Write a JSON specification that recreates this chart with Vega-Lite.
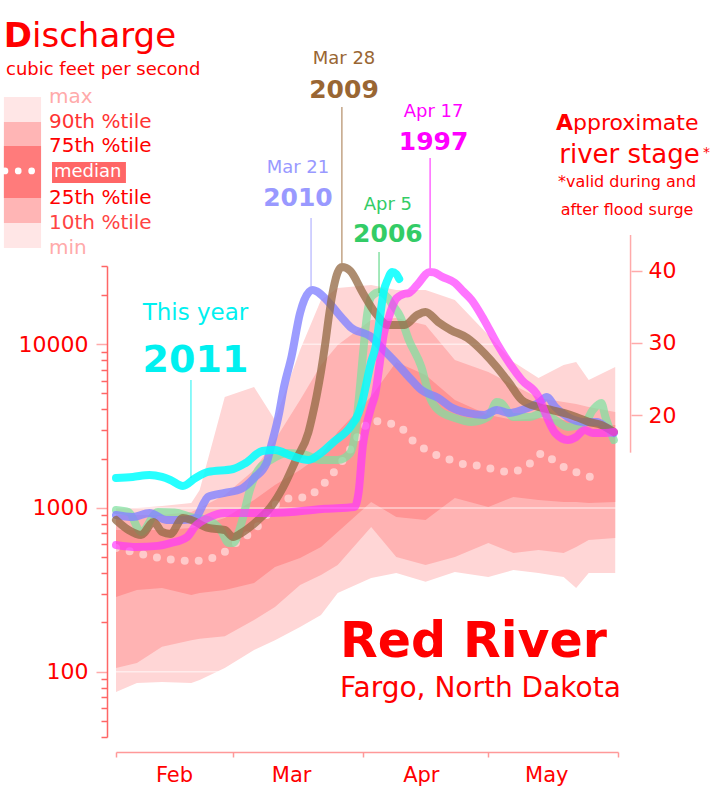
{
  "$schema": "https://vega.github.io/schema/vega-lite/v6.json",
  "width": 502,
  "height": 471,
  "autosize": {"type": "none"},
  "padding": {"left": 116, "top": 266, "right": 97, "bottom": 63},
  "background": "#ffffff",
  "config": {
    "view": {"stroke": null},
    "text": {"font": "DejaVu Sans"},
    "axis": {"labelFont": "DejaVu Sans", "grid": false}
  },
  "datasets": {
    "bands": [
      {"date": "2011-02-01", "min": 75.3, "p10": 105.5, "p25": 286, "p75": 734, "p90": 907, "max": 1000},
      {"date": "2011-02-06", "min": 85.4, "p10": 113, "p25": 316, "p75": 734, "p90": 907, "max": 1000},
      {"date": "2011-02-12", "min": 86.7, "p10": 142, "p25": 325, "p75": 734, "p90": 907, "max": 1029},
      {"date": "2011-02-19", "min": 85.4, "p10": 156, "p25": 294, "p75": 755, "p90": 946, "max": 1073},
      {"date": "2011-02-21", "min": 89.1, "p10": 159, "p25": 303, "p75": 777, "p90": 1000, "max": 1288},
      {"date": "2011-02-27", "min": 105.5, "p10": 165, "p25": 316, "p75": 869, "p90": 1201, "max": 4762},
      {"date": "2011-03-06", "min": 136, "p10": 207, "p25": 349, "p75": 1119, "p90": 1707, "max": 5481},
      {"date": "2011-03-11", "min": 156, "p10": 249, "p25": 436, "p75": 1382, "p90": 2602, "max": 3446},
      {"date": "2011-03-17", "min": 188, "p10": 339, "p25": 495, "p75": 1707, "p90": 4563, "max": 9220},
      {"date": "2011-03-22", "min": 222, "p10": 390, "p25": 578, "p75": 2107, "p90": 7466, "max": 18620},
      {"date": "2011-03-26", "min": 303, "p10": 449, "p25": 714, "p75": 2912, "p90": 9892, "max": 22040},
      {"date": "2011-04-03", "min": 374, "p10": 766, "p25": 1088, "p75": 4786, "p90": 14060, "max": 22990},
      {"date": "2011-04-09", "min": 401, "p10": 502, "p25": 882, "p75": 7788, "p90": 14460, "max": 21430},
      {"date": "2011-04-16", "min": 354, "p10": 449, "p25": 845, "p75": 6489, "p90": 13100, "max": 21430},
      {"date": "2011-04-23", "min": 407, "p10": 502, "p25": 1151, "p75": 4563, "p90": 8011, "max": 18620},
      {"date": "2011-05-01", "min": 379, "p10": 612, "p25": 1014, "p75": 3698, "p90": 6768, "max": 11390},
      {"date": "2011-05-07", "min": 418, "p10": 531, "p25": 1168, "p75": 3446, "p90": 5636, "max": 7788},
      {"date": "2011-05-13", "min": 401, "p10": 554, "p25": 1119, "p75": 3544, "p90": 4695, "max": 6219},
      {"date": "2011-05-19", "min": 379, "p10": 531, "p25": 1088, "p75": 3446, "p90": 4439, "max": 7466},
      {"date": "2011-05-22", "min": 325, "p10": 578, "p25": 1088, "p75": 3351, "p90": 4315, "max": 7788},
      {"date": "2011-05-25", "min": 401, "p10": 638, "p25": 1073, "p75": 3212, "p90": 4136, "max": 6045},
      {"date": "2011-05-31T08:00:00Z", "min": 401, "p10": 656, "p25": 1088, "p75": 3212, "p90": 3857, "max": 7260}
    ],
    "median": [
      {"date": "2011-02-01", "cfs": 570},
      {"date": "2011-02-06", "cfs": 531},
      {"date": "2011-02-13", "cfs": 488},
      {"date": "2011-02-20", "cfs": 475},
      {"date": "2011-02-27", "cfs": 539},
      {"date": "2011-03-02", "cfs": 620},
      {"date": "2011-03-06", "cfs": 734},
      {"date": "2011-03-12", "cfs": 1088},
      {"date": "2011-03-15", "cfs": 1151},
      {"date": "2011-03-19", "cfs": 1168},
      {"date": "2011-03-21", "cfs": 1288},
      {"date": "2011-03-24", "cfs": 1525},
      {"date": "2011-03-26", "cfs": 1780},
      {"date": "2011-03-28", "cfs": 2078},
      {"date": "2011-03-30", "cfs": 2528},
      {"date": "2011-04-01", "cfs": 3037},
      {"date": "2011-04-03", "cfs": 3398},
      {"date": "2011-04-07", "cfs": 3304},
      {"date": "2011-04-10", "cfs": 3124},
      {"date": "2011-04-12", "cfs": 2714},
      {"date": "2011-04-15", "cfs": 2358},
      {"date": "2011-04-18", "cfs": 2137},
      {"date": "2011-04-22", "cfs": 1964},
      {"date": "2011-04-25", "cfs": 1856},
      {"date": "2011-04-29", "cfs": 1806},
      {"date": "2011-05-02", "cfs": 1730},
      {"date": "2011-05-06", "cfs": 1659},
      {"date": "2011-05-09", "cfs": 1730},
      {"date": "2011-05-12", "cfs": 1964},
      {"date": "2011-05-14", "cfs": 2167},
      {"date": "2011-05-17", "cfs": 1910},
      {"date": "2011-05-20", "cfs": 1730},
      {"date": "2011-05-24", "cfs": 1591},
      {"date": "2011-05-28", "cfs": 1480}
    ],
    "flows": [
      {"series": "2006", "date": "2011-02-01", "cfs": 972},
      {"series": "2006", "date": "2011-02-04", "cfs": 945},
      {"series": "2006", "date": "2011-02-07", "cfs": 714},
      {"series": "2006", "date": "2011-02-11", "cfs": 945},
      {"series": "2006", "date": "2011-02-15", "cfs": 940},
      {"series": "2006", "date": "2011-02-19", "cfs": 880},
      {"series": "2006", "date": "2011-02-23", "cfs": 845},
      {"series": "2006", "date": "2011-02-26", "cfs": 734},
      {"series": "2006", "date": "2011-02-28", "cfs": 611},
      {"series": "2006", "date": "2011-03-01", "cfs": 611},
      {"series": "2006", "date": "2011-03-03", "cfs": 810},
      {"series": "2006", "date": "2011-03-05", "cfs": 1288},
      {"series": "2006", "date": "2011-03-07", "cfs": 1706},
      {"series": "2006", "date": "2011-03-10", "cfs": 1964},
      {"series": "2006", "date": "2011-03-14", "cfs": 2167},
      {"series": "2006", "date": "2011-03-18", "cfs": 2120},
      {"series": "2006", "date": "2011-03-22", "cfs": 1964},
      {"series": "2006", "date": "2011-03-26", "cfs": 1964},
      {"series": "2006", "date": "2011-03-29", "cfs": 2167},
      {"series": "2006", "date": "2011-03-30", "cfs": 2700},
      {"series": "2006", "date": "2011-03-31", "cfs": 4500},
      {"series": "2006", "date": "2011-04-01", "cfs": 8500},
      {"series": "2006", "date": "2011-04-02", "cfs": 15000},
      {"series": "2006", "date": "2011-04-03", "cfs": 19430},
      {"series": "2006", "date": "2011-04-05", "cfs": 20840},
      {"series": "2006", "date": "2011-04-07", "cfs": 19150},
      {"series": "2006", "date": "2011-04-08", "cfs": 17500},
      {"series": "2006", "date": "2011-04-10", "cfs": 14660},
      {"series": "2006", "date": "2011-04-12", "cfs": 10610},
      {"series": "2006", "date": "2011-04-15", "cfs": 7260},
      {"series": "2006", "date": "2011-04-17", "cfs": 4761},
      {"series": "2006", "date": "2011-04-19", "cfs": 3967},
      {"series": "2006", "date": "2011-04-23", "cfs": 3546},
      {"series": "2006", "date": "2011-04-27", "cfs": 3352},
      {"series": "2006", "date": "2011-05-01", "cfs": 3596},
      {"series": "2006", "date": "2011-05-03", "cfs": 4440},
      {"series": "2006", "date": "2011-05-04", "cfs": 4375},
      {"series": "2006", "date": "2011-05-07", "cfs": 3596},
      {"series": "2006", "date": "2011-05-11", "cfs": 3596},
      {"series": "2006", "date": "2011-05-14", "cfs": 3803},
      {"series": "2006", "date": "2011-05-17", "cfs": 3446},
      {"series": "2006", "date": "2011-05-20", "cfs": 3124},
      {"series": "2006", "date": "2011-05-24", "cfs": 3305},
      {"series": "2006", "date": "2011-05-26", "cfs": 3967},
      {"series": "2006", "date": "2011-05-28", "cfs": 4375},
      {"series": "2006", "date": "2011-05-29", "cfs": 3596},
      {"series": "2006", "date": "2011-05-31", "cfs": 2601},
      {"series": "2010", "date": "2011-02-01", "cfs": 906},
      {"series": "2010", "date": "2011-02-05", "cfs": 881},
      {"series": "2010", "date": "2011-02-09", "cfs": 932},
      {"series": "2010", "date": "2011-02-13", "cfs": 845},
      {"series": "2010", "date": "2011-02-17", "cfs": 845},
      {"series": "2010", "date": "2011-02-20", "cfs": 869},
      {"series": "2010", "date": "2011-02-22", "cfs": 1073},
      {"series": "2010", "date": "2011-02-23", "cfs": 1168},
      {"series": "2010", "date": "2011-02-27", "cfs": 1235},
      {"series": "2010", "date": "2011-03-03", "cfs": 1311},
      {"series": "2010", "date": "2011-03-06", "cfs": 1525},
      {"series": "2010", "date": "2011-03-09", "cfs": 1883},
      {"series": "2010", "date": "2011-03-10", "cfs": 2350},
      {"series": "2010", "date": "2011-03-12", "cfs": 3803},
      {"series": "2010", "date": "2011-03-13", "cfs": 5250},
      {"series": "2010", "date": "2011-03-15", "cfs": 8500},
      {"series": "2010", "date": "2011-03-17", "cfs": 15500},
      {"series": "2010", "date": "2011-03-18", "cfs": 18600},
      {"series": "2010", "date": "2011-03-20", "cfs": 21430},
      {"series": "2010", "date": "2011-03-21", "cfs": 21000},
      {"series": "2010", "date": "2011-03-23", "cfs": 19000},
      {"series": "2010", "date": "2011-03-25", "cfs": 16640},
      {"series": "2010", "date": "2011-03-27", "cfs": 14460},
      {"series": "2010", "date": "2011-03-29", "cfs": 12740},
      {"series": "2010", "date": "2011-04-03", "cfs": 11070},
      {"series": "2010", "date": "2011-04-06", "cfs": 9220},
      {"series": "2010", "date": "2011-04-09", "cfs": 7680},
      {"series": "2010", "date": "2011-04-12", "cfs": 6308},
      {"series": "2010", "date": "2011-04-15", "cfs": 5252},
      {"series": "2010", "date": "2011-04-19", "cfs": 4696},
      {"series": "2010", "date": "2011-04-22", "cfs": 4136},
      {"series": "2010", "date": "2011-04-26", "cfs": 3803},
      {"series": "2010", "date": "2011-04-30", "cfs": 3697},
      {"series": "2010", "date": "2011-05-03", "cfs": 3967},
      {"series": "2010", "date": "2011-05-06", "cfs": 3803},
      {"series": "2010", "date": "2011-05-09", "cfs": 3967},
      {"series": "2010", "date": "2011-05-13", "cfs": 4375},
      {"series": "2010", "date": "2011-05-15", "cfs": 4761},
      {"series": "2010", "date": "2011-05-17", "cfs": 4136},
      {"series": "2010", "date": "2011-05-20", "cfs": 3596},
      {"series": "2010", "date": "2011-05-24", "cfs": 3352},
      {"series": "2010", "date": "2011-05-27", "cfs": 3352},
      {"series": "2010", "date": "2011-05-29", "cfs": 3124},
      {"series": "2010", "date": "2011-05-31", "cfs": 2870},
      {"series": "2009", "date": "2011-02-01", "cfs": 845},
      {"series": "2009", "date": "2011-02-04", "cfs": 734},
      {"series": "2009", "date": "2011-02-07", "cfs": 684},
      {"series": "2009", "date": "2011-02-10", "cfs": 822},
      {"series": "2009", "date": "2011-02-12", "cfs": 714},
      {"series": "2009", "date": "2011-02-14", "cfs": 694},
      {"series": "2009", "date": "2011-02-17", "cfs": 869},
      {"series": "2009", "date": "2011-02-19", "cfs": 845},
      {"series": "2009", "date": "2011-02-23", "cfs": 755},
      {"series": "2009", "date": "2011-02-27", "cfs": 734},
      {"series": "2009", "date": "2011-03-01", "cfs": 665},
      {"series": "2009", "date": "2011-03-03", "cfs": 704},
      {"series": "2009", "date": "2011-03-07", "cfs": 845},
      {"series": "2009", "date": "2011-03-10", "cfs": 1014},
      {"series": "2009", "date": "2011-03-13", "cfs": 1344},
      {"series": "2009", "date": "2011-03-16", "cfs": 1964},
      {"series": "2009", "date": "2011-03-19", "cfs": 2900},
      {"series": "2009", "date": "2011-03-20", "cfs": 3700},
      {"series": "2009", "date": "2011-03-21", "cfs": 4900},
      {"series": "2009", "date": "2011-03-22", "cfs": 6800},
      {"series": "2009", "date": "2011-03-23", "cfs": 10000},
      {"series": "2009", "date": "2011-03-24", "cfs": 15500},
      {"series": "2009", "date": "2011-03-25", "cfs": 22000},
      {"series": "2009", "date": "2011-03-26", "cfs": 27500},
      {"series": "2009", "date": "2011-03-27", "cfs": 29600},
      {"series": "2009", "date": "2011-03-28", "cfs": 29200},
      {"series": "2009", "date": "2011-03-29", "cfs": 28000},
      {"series": "2009", "date": "2011-04-01", "cfs": 20540},
      {"series": "2009", "date": "2011-04-04", "cfs": 15500},
      {"series": "2009", "date": "2011-04-07", "cfs": 13100},
      {"series": "2009", "date": "2011-04-11", "cfs": 13100},
      {"series": "2009", "date": "2011-04-14", "cfs": 15080},
      {"series": "2009", "date": "2011-04-16", "cfs": 15730},
      {"series": "2009", "date": "2011-04-19", "cfs": 13670},
      {"series": "2009", "date": "2011-04-22", "cfs": 12210},
      {"series": "2009", "date": "2011-04-26", "cfs": 10910},
      {"series": "2009", "date": "2011-04-30", "cfs": 8839},
      {"series": "2009", "date": "2011-05-03", "cfs": 7260},
      {"series": "2009", "date": "2011-05-06", "cfs": 5796},
      {"series": "2009", "date": "2011-05-09", "cfs": 4565},
      {"series": "2009", "date": "2011-05-13", "cfs": 4136},
      {"series": "2009", "date": "2011-05-16", "cfs": 3967},
      {"series": "2009", "date": "2011-05-19", "cfs": 3803},
      {"series": "2009", "date": "2011-05-22", "cfs": 3596},
      {"series": "2009", "date": "2011-05-25", "cfs": 3352},
      {"series": "2009", "date": "2011-05-28", "cfs": 3213},
      {"series": "2009", "date": "2011-05-31", "cfs": 2911},
      {"series": "1997", "date": "2011-02-01", "cfs": 595},
      {"series": "1997", "date": "2011-02-06", "cfs": 578},
      {"series": "1997", "date": "2011-02-11", "cfs": 587},
      {"series": "1997", "date": "2011-02-14", "cfs": 610},
      {"series": "1997", "date": "2011-02-18", "cfs": 665},
      {"series": "1997", "date": "2011-02-20", "cfs": 776},
      {"series": "1997", "date": "2011-02-23", "cfs": 870},
      {"series": "1997", "date": "2011-02-27", "cfs": 932},
      {"series": "1997", "date": "2011-03-09", "cfs": 932},
      {"series": "1997", "date": "2011-03-15", "cfs": 946},
      {"series": "1997", "date": "2011-03-23", "cfs": 988},
      {"series": "1997", "date": "2011-03-30", "cfs": 1014},
      {"series": "1997", "date": "2011-03-31", "cfs": 1250},
      {"series": "1997", "date": "2011-04-01", "cfs": 2400},
      {"series": "1997", "date": "2011-04-02", "cfs": 3300},
      {"series": "1997", "date": "2011-04-03", "cfs": 4100},
      {"series": "1997", "date": "2011-04-04", "cfs": 5000},
      {"series": "1997", "date": "2011-04-05", "cfs": 7500},
      {"series": "1997", "date": "2011-04-06", "cfs": 11500},
      {"series": "1997", "date": "2011-04-07", "cfs": 14000},
      {"series": "1997", "date": "2011-04-08", "cfs": 16800},
      {"series": "1997", "date": "2011-04-09", "cfs": 19000},
      {"series": "1997", "date": "2011-04-11", "cfs": 20300},
      {"series": "1997", "date": "2011-04-12", "cfs": 20540},
      {"series": "1997", "date": "2011-04-14", "cfs": 23000},
      {"series": "1997", "date": "2011-04-17", "cfs": 27600},
      {"series": "1997", "date": "2011-04-18", "cfs": 27400},
      {"series": "1997", "date": "2011-04-20", "cfs": 25730},
      {"series": "1997", "date": "2011-04-23", "cfs": 23640},
      {"series": "1997", "date": "2011-04-25", "cfs": 21000},
      {"series": "1997", "date": "2011-04-27", "cfs": 18620},
      {"series": "1997", "date": "2011-04-30", "cfs": 14060},
      {"series": "1997", "date": "2011-05-03", "cfs": 10170},
      {"series": "1997", "date": "2011-05-06", "cfs": 7680},
      {"series": "1997", "date": "2011-05-09", "cfs": 6048},
      {"series": "1997", "date": "2011-05-13", "cfs": 4761},
      {"series": "1997", "date": "2011-05-15", "cfs": 3596},
      {"series": "1997", "date": "2011-05-17", "cfs": 2870},
      {"series": "1997", "date": "2011-05-20", "cfs": 2601},
      {"series": "1997", "date": "2011-05-22", "cfs": 2714},
      {"series": "1997", "date": "2011-05-24", "cfs": 2994},
      {"series": "1997", "date": "2011-05-26", "cfs": 2870},
      {"series": "1997", "date": "2011-05-29", "cfs": 2870},
      {"series": "1997", "date": "2011-05-31", "cfs": 2911},
      {"series": "2011", "date": "2011-02-01", "cfs": 1525},
      {"series": "2011", "date": "2011-02-05", "cfs": 1547},
      {"series": "2011", "date": "2011-02-09", "cfs": 1590},
      {"series": "2011", "date": "2011-02-12", "cfs": 1547},
      {"series": "2011", "date": "2011-02-14", "cfs": 1483},
      {"series": "2011", "date": "2011-02-17", "cfs": 1363},
      {"series": "2011", "date": "2011-02-20", "cfs": 1525},
      {"series": "2011", "date": "2011-02-23", "cfs": 1659},
      {"series": "2011", "date": "2011-03-01", "cfs": 1730},
      {"series": "2011", "date": "2011-03-04", "cfs": 1883},
      {"series": "2011", "date": "2011-03-08", "cfs": 2229},
      {"series": "2011", "date": "2011-03-11", "cfs": 2260},
      {"series": "2011", "date": "2011-03-15", "cfs": 2078},
      {"series": "2011", "date": "2011-03-19", "cfs": 1964},
      {"series": "2011", "date": "2011-03-22", "cfs": 2167},
      {"series": "2011", "date": "2011-03-25", "cfs": 2528},
      {"series": "2011", "date": "2011-03-29", "cfs": 3124},
      {"series": "2011", "date": "2011-03-31", "cfs": 3800},
      {"series": "2011", "date": "2011-04-01", "cfs": 4600},
      {"series": "2011", "date": "2011-04-02", "cfs": 6000},
      {"series": "2011", "date": "2011-04-03", "cfs": 7800},
      {"series": "2011", "date": "2011-04-04", "cfs": 9500},
      {"series": "2011", "date": "2011-04-05", "cfs": 14000},
      {"series": "2011", "date": "2011-04-06", "cfs": 21000},
      {"series": "2011", "date": "2011-04-07", "cfs": 25000},
      {"series": "2011", "date": "2011-04-08", "cfs": 27600},
      {"series": "2011", "date": "2011-04-09", "cfs": 26800},
      {"series": "2011", "date": "2011-04-09T17:00:00Z", "cfs": 25000}
    ],
    "peaks": [
      {"series": "2010", "when": "Mar 21", "date": "2011-03-16T12:00:00Z", "when_y": 110990, "year_y": 69800, "peak": "2011-03-19T15:00:00Z", "lead_top": 58960, "lead_bottom": 21430},
      {"series": "2009", "when": "Mar 28", "date": "2011-03-27T12:00:00Z", "when_y": 513690, "year_y": 318560, "peak": "2011-03-27T00:00:00Z", "lead_top": 280630, "lead_bottom": 31320},
      {"series": "2006", "when": "Apr 5", "date": "2011-04-07T00:00:00Z", "when_y": 65960, "year_y": 42080, "peak": "2011-04-04T21:00:00Z", "lead_top": 36560, "lead_bottom": 20545},
      {"series": "1997", "when": "Apr 17", "date": "2011-04-17T22:00:00Z", "when_y": 243890, "year_y": 153370, "peak": "2011-04-17T02:00:00Z", "lead_top": 137050, "lead_bottom": 29200},
      {"series": "2011", "when": "This year", "date": "2011-02-20T00:00:00Z", "when_y": 14060, "year_y": 6768, "peak": "2011-02-18T22:00:00Z", "lead_top": 6045, "lead_bottom": 1525}
    ],
    "levels": [
      {"level": "max", "cfs": 323060},
      {"level": "90th %tile", "cfs": 227340},
      {"level": "75th %tile", "cfs": 162260},
      {"level": "25th %tile", "cfs": 78100},
      {"level": "10th %tile", "cfs": 54950},
      {"level": "min", "cfs": 38670}
    ],
    "swatches": [
      {"tone": "outer", "top": 323060, "bottom": 38670},
      {"tone": "inner", "top": 227340, "bottom": 54950},
      {"tone": "core", "top": 162260, "bottom": 78100}
    ]
  },
  "resolve": {"scale": {"y": "independent"}},
  "layer": [
    {
      "layer": [
        {
          "data": {"name": "bands"},
          "mark": {"type": "area", "color": "#ffd6d6"},
          "encoding": {
            "x": {
              "field": "date", "type": "temporal", "title": null,
              "scale": {"type": "utc", "nice": false, "domain": [{"year": 2011, "month": 2, "date": 1, "utc": true}, {"year": 2011, "month": 6, "date": 1, "utc": true}]},
              "axis": {
                "values": [
                  {"year": 2011, "month": 2, "date": 1, "utc": true},
                  {"year": 2011, "month": 3, "date": 1, "utc": true},
                  {"year": 2011, "month": 4, "date": 1, "utc": true},
                  {"year": 2011, "month": 5, "date": 1, "utc": true},
                  {"year": 2011, "month": 6, "date": 1, "utc": true}
                ],
                "labelExpr": "utcmonth(datum.value) == 5 ? '' : utcFormat(datum.value, '%b')",
                "offset": 15, "tickSize": 5, "tickColor": "#ff9999", "tickWidth": 1.5,
                "domainColor": "#ff9999", "domainWidth": 1.5,
                "labelOffset": 58, "labelAlign": "center", "labelPadding": 7,
                "labelFontSize": 21, "labelColor": "#ff0000",
                "labelFlush": false, "labelOverlap": false, "labelBound": false, "grid": false
              }
            },
            "y": {
              "field": "min", "type": "quantitative", "title": null,
              "scale": {"type": "log", "domain": [40, 30000], "nice": false},
              "axis": {
                "values": [40, 50, 60, 70, 80, 90, 100, 200, 300, 400, 500, 600, 700, 800, 900, 1000, 2000, 3000, 4000, 5000, 6000, 7000, 8000, 9000, 10000, 20000, 30000],
                "labelExpr": "datum.value == 100 || datum.value == 1000 || datum.value == 10000 ? '' + datum.value : ''",
                "offset": 9, "tickWidth": 1.5,
                "tickSize": {"condition": {"test": "datum.value == 100 || datum.value == 1000 || datum.value == 10000", "value": 11}, "value": 6},
                "tickColor": {"condition": {"test": "datum.value == 100 || datum.value == 1000 || datum.value == 10000", "value": "#ffaaaa"}, "value": "#ff6666"},
                "domainColor": "#ff6666", "domainWidth": 1.5,
                "labelPadding": 8, "labelFontSize": 22, "labelColor": "#ff0000",
                "labelFlush": false, "labelOverlap": false, "labelBound": false, "grid": false
              }
            },
            "y2": {"field": "max"}
          }
        },
        {
          "data": {"name": "bands"},
          "mark": {"type": "area", "color": "#ffb3b3"},
          "encoding": {
            "x": {"field": "date", "type": "temporal", "title": null, "scale": {"type": "utc"}},
            "y": {"field": "p10", "type": "quantitative", "title": null, "scale": {"type": "log"}},
            "y2": {"field": "p90"}
          }
        },
        {
          "data": {"name": "bands"},
          "mark": {"type": "area", "color": "#ff9494"},
          "encoding": {
            "x": {"field": "date", "type": "temporal", "title": null, "scale": {"type": "utc"}},
            "y": {"field": "p25", "type": "quantitative", "title": null, "scale": {"type": "log"}},
            "y2": {"field": "p75"}
          }
        },
        {
          "data": {"values": [{"cfs": 100}, {"cfs": 1000}, {"cfs": 10000}]},
          "mark": {"type": "rule", "color": "#ffffff", "opacity": 0.55, "strokeWidth": 1.5},
          "encoding": {
            "y": {"field": "cfs", "type": "quantitative", "title": null, "scale": {"type": "log"}}
          }
        },
        {
          "data": {"name": "median"},
          "mark": {"type": "line", "color": "#ffffff", "opacity": 0.5, "strokeWidth": 8, "strokeCap": "round", "strokeDash": [0, 14], "interpolate": "monotone"},
          "encoding": {
            "x": {"field": "date", "type": "temporal", "title": null, "scale": {"type": "utc"}},
            "y": {"field": "cfs", "type": "quantitative", "title": null, "scale": {"type": "log"}}
          }
        },
        {
          "data": {"name": "flows"},
          "mark": {"type": "line", "strokeWidth": 8, "strokeCap": "round", "strokeJoin": "round", "interpolate": "monotone"},
          "encoding": {
            "x": {"field": "date", "type": "temporal", "title": null, "scale": {"type": "utc"}},
            "y": {"field": "cfs", "type": "quantitative", "title": null, "scale": {"type": "log"}},
            "stroke": {"field": "series", "type": "nominal", "legend": null, "scale": {"domain": ["2011", "2010", "2009", "2006", "1997"], "range": ["#00ffff", "#8585ff", "#946a44", "#80e0a0", "#ff33ff"]}},
            "opacity": {"field": "series", "type": "nominal", "legend": null, "scale": {"domain": ["2011", "2010", "2009", "2006", "1997"], "range": [0.85, 0.68, 0.75, 0.85, 0.75]}}
          }
        },
        {
          "data": {"name": "peaks"},
          "mark": {"type": "rule", "strokeWidth": 1.2, "opacity": 0.75},
          "encoding": {
            "x": {"field": "peak", "type": "temporal", "title": null, "scale": {"type": "utc"}},
            "y": {"field": "lead_top", "type": "quantitative", "title": null, "scale": {"type": "log"}},
            "y2": {"field": "lead_bottom"},
            "color": {"field": "series", "type": "nominal", "legend": null, "scale": {"domain": ["2011", "2010", "2009", "2006", "1997"], "range": ["#00f0f0", "#9999ff", "#996633", "#33cc66", "#ff00ff"]}}
          }
        },
        {
          "data": {"name": "peaks"},
          "transform": [{"filter": "datum.series != '2011'"}],
          "mark": {"type": "text", "fontSize": 18, "align": "center", "baseline": "alphabetic"},
          "encoding": {
            "x": {"field": "date", "type": "temporal", "title": null, "scale": {"type": "utc"}},
            "y": {"field": "when_y", "type": "quantitative", "title": null, "scale": {"type": "log"}},
            "text": {"field": "when"},
            "color": {"field": "series", "type": "nominal", "legend": null, "scale": {"domain": ["2011", "2010", "2009", "2006", "1997"], "range": ["#00f0f0", "#9999ff", "#996633", "#33cc66", "#ff00ff"]}}
          }
        },
        {
          "data": {"name": "peaks"},
          "transform": [{"filter": "datum.series != '2011'"}],
          "mark": {"type": "text", "fontSize": 25, "fontWeight": "bold", "align": "center", "baseline": "alphabetic"},
          "encoding": {
            "x": {"field": "date", "type": "temporal", "title": null, "scale": {"type": "utc"}},
            "y": {"field": "year_y", "type": "quantitative", "title": null, "scale": {"type": "log"}},
            "text": {"field": "series"},
            "color": {"field": "series", "type": "nominal", "legend": null, "scale": {"domain": ["2011", "2010", "2009", "2006", "1997"], "range": ["#00f0f0", "#9999ff", "#996633", "#33cc66", "#ff00ff"]}}
          }
        },
        {
          "data": {"name": "peaks"},
          "transform": [{"filter": "datum.series == '2011'"}],
          "mark": {"type": "text", "fontSize": 23, "align": "center", "baseline": "alphabetic"},
          "encoding": {
            "x": {"field": "date", "type": "temporal", "title": null, "scale": {"type": "utc"}},
            "y": {"field": "when_y", "type": "quantitative", "title": null, "scale": {"type": "log"}},
            "text": {"field": "when"},
            "color": {"field": "series", "type": "nominal", "legend": null, "scale": {"domain": ["2011", "2010", "2009", "2006", "1997"], "range": ["#00f0f0", "#9999ff", "#996633", "#33cc66", "#ff00ff"]}}
          }
        },
        {
          "data": {"name": "peaks"},
          "transform": [{"filter": "datum.series == '2011'"}],
          "mark": {"type": "text", "fontSize": 38, "fontWeight": "bold", "align": "center", "baseline": "alphabetic"},
          "encoding": {
            "x": {"field": "date", "type": "temporal", "title": null, "scale": {"type": "utc"}},
            "y": {"field": "year_y", "type": "quantitative", "title": null, "scale": {"type": "log"}},
            "text": {"field": "series"},
            "color": {"field": "series", "type": "nominal", "legend": null, "scale": {"domain": ["2011", "2010", "2009", "2006", "1997"], "range": ["#00f0f0", "#9999ff", "#996633", "#33cc66", "#ff00ff"]}}
          }
        },
        {
          "data": {"values": [{"date": "2011-01-11T22:00:00Z", "cfs": 652400, "text": "D"}]},
          "mark": {"type": "text", "fontSize": 34, "fontWeight": "bold", "align": "right", "baseline": "alphabetic", "color": "#ff0000"},
          "encoding": {
            "x": {"field": "date", "type": "temporal", "title": null, "scale": {"type": "utc"}},
            "y": {"field": "cfs", "type": "quantitative", "title": null, "scale": {"type": "log"}},
            "text": {"field": "text"}
          }
        },
        {
          "data": {"values": [{"date": "2011-01-11T22:00:00Z", "cfs": 652400, "text": "ischarge"}]},
          "mark": {"type": "text", "fontSize": 34, "align": "left", "baseline": "alphabetic", "color": "#ff0000"},
          "encoding": {
            "x": {"field": "date", "type": "temporal", "title": null, "scale": {"type": "utc"}},
            "y": {"field": "cfs", "type": "quantitative", "title": null, "scale": {"type": "log"}},
            "text": {"field": "text"}
          }
        },
        {
          "data": {"values": [{"date": "2011-01-05T17:00:00Z", "cfs": 440100, "text": "cubic feet per second"}]},
          "mark": {"type": "text", "fontSize": 18, "align": "left", "baseline": "alphabetic", "color": "#ff0000"},
          "encoding": {
            "x": {"field": "date", "type": "temporal", "title": null, "scale": {"type": "utc"}},
            "y": {"field": "cfs", "type": "quantitative", "title": null, "scale": {"type": "log"}},
            "text": {"field": "text"}
          }
        },
        {
          "data": {"name": "swatches"},
          "transform": [{"filter": "datum.tone == 'outer'"}],
          "mark": {"type": "rect", "color": "#ffe6e6"},
          "encoding": {
            "x": {"datum": {"year": 2011, "month": 1, "date": 5, "hours": 5, "utc": true}, "type": "temporal", "scale": {"type": "utc"}},
            "x2": {"datum": {"year": 2011, "month": 1, "date": 14, "hours": 2, "utc": true}},
            "y": {"field": "top", "type": "quantitative", "title": null, "scale": {"type": "log"}},
            "y2": {"field": "bottom"}
          }
        },
        {
          "data": {"name": "swatches"},
          "transform": [{"filter": "datum.tone == 'inner'"}],
          "mark": {"type": "rect", "color": "#ffb5b5"},
          "encoding": {
            "x": {"datum": {"year": 2011, "month": 1, "date": 5, "hours": 5, "utc": true}, "type": "temporal", "scale": {"type": "utc"}},
            "x2": {"datum": {"year": 2011, "month": 1, "date": 14, "hours": 2, "utc": true}},
            "y": {"field": "top", "type": "quantitative", "title": null, "scale": {"type": "log"}},
            "y2": {"field": "bottom"}
          }
        },
        {
          "data": {"name": "swatches"},
          "transform": [{"filter": "datum.tone == 'core'"}],
          "mark": {"type": "rect", "color": "#ff7b7b"},
          "encoding": {
            "x": {"datum": {"year": 2011, "month": 1, "date": 5, "hours": 5, "utc": true}, "type": "temporal", "scale": {"type": "utc"}},
            "x2": {"datum": {"year": 2011, "month": 1, "date": 14, "hours": 2, "utc": true}},
            "y": {"field": "top", "type": "quantitative", "title": null, "scale": {"type": "log"}},
            "y2": {"field": "bottom"}
          }
        },
        {
          "data": {"values": [{"top": 129540, "bottom": 96435}]},
          "mark": {"type": "rect", "color": "#ff6666"},
          "encoding": {
            "x": {"datum": {"year": 2011, "month": 1, "date": 16, "hours": 17, "utc": true}, "type": "temporal", "scale": {"type": "utc"}},
            "x2": {"datum": {"year": 2011, "month": 2, "date": 3, "hours": 9, "utc": true}},
            "y": {"field": "top", "type": "quantitative", "title": null, "scale": {"type": "log"}},
            "y2": {"field": "bottom"}
          }
        },
        {
          "data": {"values": [
            {"date": "2011-01-05T11:00:00Z", "cfs": 114160},
            {"date": "2011-01-08T15:00:00Z", "cfs": 114160},
            {"date": "2011-01-11T20:00:00Z", "cfs": 114160}
          ]},
          "mark": {"type": "point", "filled": true, "size": 45, "color": "#ffffff", "opacity": 1},
          "encoding": {
            "x": {"field": "date", "type": "temporal", "title": null, "scale": {"type": "utc"}},
            "y": {"field": "cfs", "type": "quantitative", "title": null, "scale": {"type": "log"}}
          }
        },
        {
          "data": {"name": "levels"},
          "mark": {"type": "text", "fontSize": 20, "align": "left", "baseline": "middle"},
          "encoding": {
            "x": {"datum": {"year": 2011, "month": 1, "date": 16, "utc": true}, "type": "temporal", "scale": {"type": "utc"}},
            "y": {"field": "cfs", "type": "quantitative", "title": null, "scale": {"type": "log"}},
            "text": {"field": "level"},
            "fill": {"field": "level", "type": "nominal", "legend": null, "scale": {"domain": ["max", "90th %tile", "75th %tile", "25th %tile", "10th %tile", "min"], "range": ["#ffaaaa", "#ff3333", "#ff0000", "#ff0000", "#ff4444", "#ffaaaa"]}}
          }
        },
        {
          "data": {"values": [{"date": "2011-01-17T04:00:00Z", "cfs": 112560, "text": "median"}]},
          "mark": {"type": "text", "fontSize": 18, "align": "left", "baseline": "middle", "color": "#ffffff"},
          "encoding": {
            "x": {"field": "date", "type": "temporal", "title": null, "scale": {"type": "utc"}},
            "y": {"field": "cfs", "type": "quantitative", "title": null, "scale": {"type": "log"}},
            "text": {"field": "text"}
          }
        },
        {
          "data": {"values": [{"date": "2011-05-21T06:00:00Z", "cfs": 203180, "text": "A"}]},
          "mark": {"type": "text", "fontSize": 22, "fontWeight": "bold", "align": "right", "baseline": "alphabetic", "color": "#ff0000"},
          "encoding": {
            "x": {"field": "date", "type": "temporal", "title": null, "scale": {"type": "utc"}},
            "y": {"field": "cfs", "type": "quantitative", "title": null, "scale": {"type": "log"}},
            "text": {"field": "text"}
          }
        },
        {
          "data": {"values": [{"date": "2011-05-21T06:00:00Z", "cfs": 203180, "text": "pproximate"}]},
          "mark": {"type": "text", "fontSize": 22, "align": "left", "baseline": "alphabetic", "color": "#ff0000"},
          "encoding": {
            "x": {"field": "date", "type": "temporal", "title": null, "scale": {"type": "utc"}},
            "y": {"field": "cfs", "type": "quantitative", "title": null, "scale": {"type": "log"}},
            "text": {"field": "text"}
          }
        },
        {
          "data": {"values": [{"date": "2011-06-03T18:00:00Z", "cfs": 127740, "text": "river stage"}]},
          "mark": {"type": "text", "fontSize": 26, "align": "center", "baseline": "alphabetic", "color": "#ff0000"},
          "encoding": {
            "x": {"field": "date", "type": "temporal", "title": null, "scale": {"type": "utc"}},
            "y": {"field": "cfs", "type": "quantitative", "title": null, "scale": {"type": "log"}},
            "text": {"field": "text"}
          }
        },
        {
          "data": {"values": [{"date": "2011-06-21T08:00:00Z", "cfs": 138990, "text": "*"}]},
          "mark": {"type": "text", "fontSize": 14, "align": "left", "baseline": "alphabetic", "color": "#ff0000"},
          "encoding": {
            "x": {"field": "date", "type": "temporal", "title": null, "scale": {"type": "utc"}},
            "y": {"field": "cfs", "type": "quantitative", "title": null, "scale": {"type": "log"}},
            "text": {"field": "text"}
          }
        },
        {
          "data": {"values": [
            {"date": "2011-06-03T04:00:00Z", "cfs": 91170, "text": "*valid during and"},
            {"date": "2011-06-03T04:00:00Z", "cfs": 61500, "text": "after flood surge"}
          ]},
          "mark": {"type": "text", "fontSize": 16, "align": "center", "baseline": "alphabetic", "color": "#ff0000"},
          "encoding": {
            "x": {"field": "date", "type": "temporal", "title": null, "scale": {"type": "utc"}},
            "y": {"field": "cfs", "type": "quantitative", "title": null, "scale": {"type": "log"}},
            "text": {"field": "text"}
          }
        },
        {
          "data": {"values": [{"date": "2011-03-26T13:00:00Z", "cfs": 123.2, "text": "Red River"}]},
          "mark": {"type": "text", "fontSize": 49, "fontWeight": "bold", "align": "left", "baseline": "alphabetic", "color": "#ff0000"},
          "encoding": {
            "x": {"field": "date", "type": "temporal", "title": null, "scale": {"type": "utc"}},
            "y": {"field": "cfs", "type": "quantitative", "title": null, "scale": {"type": "log"}},
            "text": {"field": "text"}
          }
        },
        {
          "data": {"values": [{"date": "2011-03-26T13:00:00Z", "cfs": 70.2, "text": "Fargo, North Dakota"}]},
          "mark": {"type": "text", "fontSize": 28, "align": "left", "baseline": "alphabetic", "color": "#ff0000"},
          "encoding": {
            "x": {"field": "date", "type": "temporal", "title": null, "scale": {"type": "utc"}},
            "y": {"field": "cfs", "type": "quantitative", "title": null, "scale": {"type": "log"}},
            "text": {"field": "text"}
          }
        }
      ]
    },
    {
      "data": {"values": [{"date": "2011-06-04T00:00:00Z", "top": 44.94, "bottom": 14.83}]},
      "mark": {"type": "rule", "color": "#ffaaaa", "strokeWidth": 1.5},
      "encoding": {
        "x": {"field": "date", "type": "temporal", "title": null, "scale": {"type": "utc"}},
        "y": {
          "field": "top", "type": "quantitative", "title": null,
          "scale": {"domain": [-24.5, 40.65], "nice": false, "zero": false},
          "axis": {
            "orient": "right", "values": [20, 30, 40], "offset": 13, "domain": false,
            "tickSize": 11, "tickColor": "#ffaaaa", "tickWidth": 1.5,
            "labelPadding": 6, "labelFontSize": 22, "labelColor": "#ff0000",
            "labelFlush": false, "labelOverlap": false, "grid": false
          }
        },
        "y2": {"field": "bottom"}
      }
    }
  ]
}
